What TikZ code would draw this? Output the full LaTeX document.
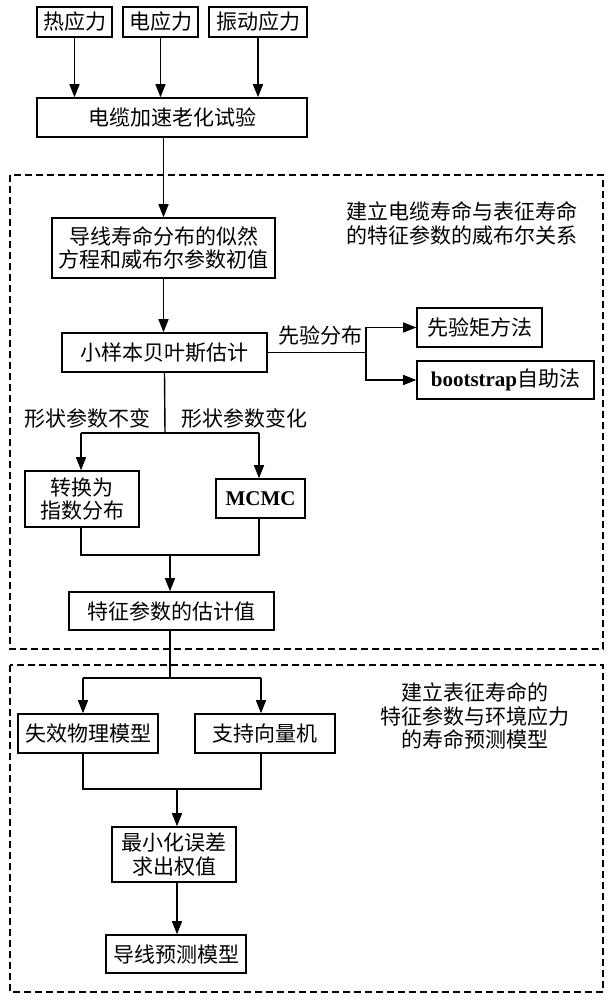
\documentclass[tikz,border=0pt]{standalone}
\usepackage{fontspec}
\setmainfont{Noto Sans CJK SC}
\newfontfamily\latf{Liberation Serif}
\usetikzlibrary{arrows.meta}
\begin{document}
\begin{tikzpicture}[x=1pt,y=-1pt,
  every node/.style={font=\fontsize{21}{23.5}\selectfont},
  box/.style={draw, line width=1.6pt, inner sep=0pt, align=center},
  conn/.style={line width=1.4pt},
  arr/.style={line width=1.4pt, -{Triangle[length=13pt,width=10pt]}},
  group/.style={draw, line width=1.5pt, dash pattern=on 7pt off 4pt},
  lbl/.style={inner sep=0pt, align=center}]
\useasboundingbox (0,0) rectangle (609,1000);
% dashed groups
\draw[group] (10,175) rectangle (603,649);
\draw[group] (10,665) rectangle (603,992);
% top boxes
\node[box, minimum width=75, minimum height=30] (re) at (74.5,22) {热应力};
\node[box, minimum width=75, minimum height=30] (ye) at (160.5,22) {电应力};
\node[box, minimum width=98, minimum height=30] (zd) at (258,22) {振动应力};
\node[box, minimum width=270, minimum height=39] (exp) at (172,117.5) {电缆加速老化试验};
\draw[arr] (re.south) -- (re.south |- exp.north);
\draw[arr] (ye.south) -- (ye.south |- exp.north);
\draw[arr] (zd.south) -- (zd.south |- exp.north);
% group 1
\node[lbl] (t1) at (462,223.5) {建立电缆寿命与表征寿命\\的特征参数的威布尔关系};
\node[box, minimum width=223, minimum height=60] (dx) at (163.5,248) {导线寿命分布的似然\\方程和威布尔参数初值};
\draw[arr] (dx.north |- exp.south) -- (dx.north);
\node[box, minimum width=205, minimum height=39] (xy) at (164.5,352.5) {小样本贝叶斯估计};
\draw[arr] (dx.south) -- (dx.south |- xy.north);
\node[box, minimum width=125, minimum height=39] (xyj) at (479.5,327.5) {先验矩方法};
\node[box, minimum width=177, minimum height=38] (bs) at (505.5,380) {{\latf\bfseries bootstrap}自助法};
\coordinate (br) at (366,352.5);
\draw[conn] (xy.east) -- (br);
\draw[arr] (br) |- (xyj.west);
\draw[arr] (br) |- (bs.west);
\node[lbl] (l1) at (320,335) {先验分布};
% shape parameter split
\coordinate (s1) at (165,433);
\coordinate (s1l) at (81,433);
\coordinate (s1r) at (259,433);
\node[lbl] (l2) at (87,418) {形状参数不变};
\node[lbl] (l3) at (244,418) {形状参数变化};
\node[box, minimum width=114, minimum height=56] (zh) at (82,499) {转换为\\指数分布};
\node[box, minimum width=89, minimum height=39] (mc) at (260.5,498.5) {\latf\bfseries MCMC};
\draw[conn] (xy.south) -- (s1);
\draw[conn] (s1l) -- (s1r);
\draw[arr] (s1l) -- (s1l |- zh.north);
\draw[arr] (s1r) -- (s1r |- mc.north);
\coordinate (m1l) at (81,555);
\coordinate (m1r) at (259,555);
\coordinate (m1) at (170,555);
\draw[conn] (m1l |- zh.south) -- (m1l) -- (m1r) -- (m1r |- mc.south);
\node[box, minimum width=205, minimum height=38] (tz) at (171.5,611) {特征参数的估计值};
\draw[arr] (m1) -- (m1 |- tz.north);
% group 2
\node[lbl] (t2) at (475,716) {建立表征寿命的\\特征参数与环境应力\\的寿命预测模型};
\coordinate (s2) at (170,678);
\coordinate (s2l) at (83,678);
\coordinate (s2r) at (261,678);
\draw[conn] (tz.south -| s2) -- (s2);
\draw[conn] (s2l) -- (s2r);
\node[box, minimum width=140, minimum height=39] (sx) at (88,733.5) {失效物理模型};
\node[box, minimum width=140, minimum height=39] (zc) at (265,733.5) {支持向量机};
\draw[arr] (s2l) -- (s2l |- sx.north);
\draw[arr] (s2r) -- (s2r |- zc.north);
\coordinate (m2l) at (83,789);
\coordinate (m2r) at (261,789);
\coordinate (m2) at (177,789);
\draw[conn] (m2l |- sx.south) -- (m2l) -- (m2r) -- (m2r |- zc.south);
\node[box, minimum width=124, minimum height=55] (zx) at (174,854.5) {最小化误差\\求出权值};
\draw[arr] (m2) -- (m2 |- zx.north);
\node[box, minimum width=140, minimum height=38] (yc) at (176,954) {导线预测模型};
\draw[arr] (zx.south -| m2) -- (m2 |- yc.north);
\end{tikzpicture}
\end{document}
